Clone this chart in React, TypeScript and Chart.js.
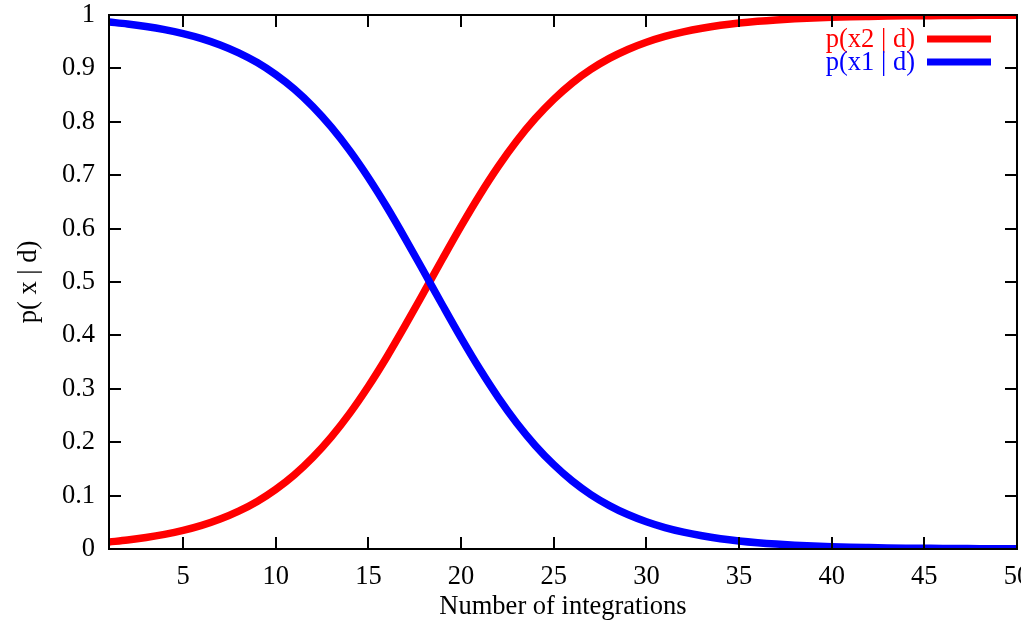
import React, { useEffect, useRef } from "react";
import { Chart, registerables } from "chart.js";

Chart.register(...registerables);

const integrations: number[] = [
  1, 2, 3, 4, 5, 6, 7, 8, 9, 10, 11, 12, 13, 14, 15, 16, 17, 18, 19, 20, 21, 22, 23, 24, 25,
  26, 27, 28, 29, 30, 31, 32, 33, 34, 35, 36, 37, 38, 39, 40, 41, 42, 43, 44, 45, 46, 47, 48, 49, 50,
];

const pX2: number[] = [
  0.0131, 0.0167, 0.0214, 0.0273, 0.0347, 0.0441, 0.056, 0.0708, 0.089, 0.1116,
  0.1388, 0.1715, 0.21, 0.2544, 0.3047, 0.36, 0.4195, 0.4813, 0.5436, 0.6047,
  0.6626, 0.716, 0.764, 0.806, 0.842, 0.8727, 0.898, 0.9187, 0.9355, 0.949,
  0.9599, 0.9685, 0.9753, 0.9807, 0.9849, 0.9882, 0.9908, 0.9928, 0.9944, 0.9956,
  0.9966, 0.9973, 0.9979, 0.9984, 0.9987, 0.999, 0.9992, 0.9994, 0.9995, 0.9996,
];

const pX1: number[] = [
  0.9869, 0.9833, 0.9786, 0.9727, 0.9653, 0.9559, 0.944, 0.9292, 0.911, 0.8884,
  0.8612, 0.8285, 0.79, 0.7456, 0.6953, 0.64, 0.5805, 0.5187, 0.4564, 0.3953,
  0.3374, 0.284, 0.236, 0.194, 0.158, 0.1273, 0.102, 0.0813, 0.0645, 0.051,
  0.0401, 0.0315, 0.0247, 0.0193, 0.0151, 0.0118, 0.0092, 0.0072, 0.0056, 0.0044,
  0.0034, 0.0027, 0.0021, 0.0016, 0.0013, 0.001, 0.0008, 0.0006, 0.0005, 0.0004,
];

const xTicks: number[] = [5, 10, 15, 20, 25, 30, 35, 40, 45, 50];
const yTicks: number[] = [0, 0.1, 0.2, 0.3, 0.4, 0.5, 0.6, 0.7, 0.8, 0.9, 1];

const seriesLabels: string[] = ["p(x2 | d)", "p(x1 | d)"];
const seriesColors: string[] = ["#ff0000", "#0000ff"];
const xTitle = "Number of integrations";
const yTitle = "p( x | d)";

const FONT = "'Liberation Serif', 'Times New Roman', serif";
const FS = 26.5;

const framePlugin = {
  id: "frame",
  afterDraw(chart: any) {
    const ctx = chart.ctx;
    const { left, right, top, bottom } = chart.chartArea;
    const xs = chart.scales.x;
    const ys = chart.scales.y;
    ctx.save();
    ctx.strokeStyle = "#000";
    ctx.lineWidth = 2;
    const tl = 12;
    ctx.beginPath();
    for (const v of xTicks) {
      const px = Math.round(xs.getPixelForValue(v));
      ctx.moveTo(px, bottom);
      ctx.lineTo(px, bottom - tl);
      ctx.moveTo(px, top);
      ctx.lineTo(px, top + tl);
    }
    for (const v of yTicks) {
      const py = Math.round(ys.getPixelForValue(v));
      ctx.moveTo(left, py);
      ctx.lineTo(left + tl, py);
      ctx.moveTo(right, py);
      ctx.lineTo(right - tl, py);
    }
    ctx.stroke();
    ctx.strokeRect(left, top, right - left, bottom - top);

    // legend
    ctx.font = `${FS}px ${FONT}`;
    ctx.textAlign = "right";
    ctx.textBaseline = "middle";
    const textRight = 915;
    const lineX0 = 927;
    const lineX1 = 991;
    const rows = [39, 62];
    chart.data.datasets.forEach((ds: any, i: number) => {
      const y = rows[i];
      ctx.fillStyle = ds.borderColor;
      ctx.fillText(ds.label, textRight, y + 1);
      ctx.strokeStyle = ds.borderColor;
      ctx.lineWidth = 7;
      ctx.beginPath();
      ctx.moveTo(lineX0, y);
      ctx.lineTo(lineX1, y);
      ctx.stroke();
    });
    ctx.restore();
  },
};

export default function App() {
  const ref = useRef<HTMLCanvasElement | null>(null);
  useEffect(() => {
    document.body.style.margin = "0";
    const canvas = ref.current!;
    const chart = new Chart(canvas, {
      type: "line",
      data: {
        labels: integrations,
        datasets: [
          {
            label: seriesLabels[0],
            data: integrations.map((x, i) => ({ x, y: pX2[i] })),
            borderColor: seriesColors[0],
            borderWidth: 7.5,
            pointRadius: 0,
            cubicInterpolationMode: "monotone",
            fill: false,
            order: 1,
          },
          {
            label: seriesLabels[1],
            data: integrations.map((x, i) => ({ x, y: pX1[i] })),
            borderColor: seriesColors[1],
            borderWidth: 7.5,
            pointRadius: 0,
            cubicInterpolationMode: "monotone",
            fill: false,
            order: 0,
          },
        ],
      },
      options: {
        animation: false,
        responsive: false,
        maintainAspectRatio: false,
        devicePixelRatio: 1,
        layout: { padding: { top: 15, right: 4, left: 0, bottom: 0 } },
        plugins: { legend: { display: false }, tooltip: { enabled: false } },
        scales: {
          x: {
            type: "linear",
            min: 1,
            max: 50,
            grid: { display: false, drawTicks: false },
            border: { display: false },
            afterBuildTicks: (s: any) => {
              s.ticks = xTicks.map((v) => ({ value: v }));
            },
            afterFit: (s: any) => {
              s.height = 71;
              s.paddingLeft = 0;
              s.paddingRight = 0;
            },
            ticks: {
              color: "#000",
              font: { family: FONT, size: FS },
              padding: 12,
              maxRotation: 0,
              autoSkip: false,
            },
            title: {
              display: true,
              text: xTitle,
              color: "#000",
              font: { family: FONT, size: FS },
              padding: { top: 0, bottom: -3 },
            },
          },
          y: {
            type: "linear",
            min: 0,
            max: 1,
            grid: { display: false, drawTicks: false },
            border: { display: false },
            afterBuildTicks: (s: any) => {
              s.ticks = yTicks.map((v) => ({ value: v }));
            },
            afterFit: (s: any) => {
              s.width = 109;
              s.paddingTop = 0;
              s.paddingBottom = 0;
            },
            ticks: {
              color: "#000",
              font: { family: FONT, size: FS },
              padding: 14,
              autoSkip: false,
              callback: (v: any) => String(Math.round(Number(v) * 10) / 10),
            },
            title: {
              display: true,
              text: yTitle,
              color: "#000",
              font: { family: FONT, size: FS },
              padding: { top: 13, bottom: 0 },
            },
          },
        },
      },
      plugins: [framePlugin],
    } as any);
    return () => chart.destroy();
  }, []);
  return (
    <div style={{ position: "absolute", left: 0, top: 0, width: 1021, height: 620, background: "#fff" }}>
      <canvas ref={ref} width={1021} height={620} style={{ width: 1021, height: 620 }} />
    </div>
  );
}
